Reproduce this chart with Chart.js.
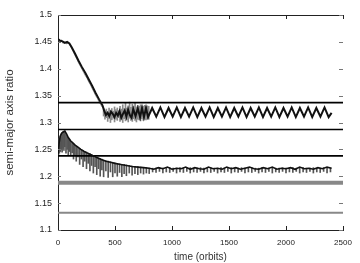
<!DOCTYPE html>
<html>
<head>
<meta charset="utf-8">
<script src="https://cdn.jsdelivr.net/npm/chart.js@4"></script>
<style>
  html, body { margin: 0; padding: 0; background: #fff; }
  #c { display: block; }
</style>
</head>
<body>
<canvas id="c" width="360" height="263"></canvas>
<script>
// axis ticks
const xTicks = [0, 500, 1000, 1500, 2000, 2500];
const yTicks = [1.1, 1.15, 1.2, 1.25, 1.3, 1.35, 1.4, 1.45, 1.5];

// horizontal reference levels
const refLevels = [1.337, 1.287, 1.238];
const grayLevels = [1.188, 1.132];

// upper curve (smoothed, black)
const upperTime = [0, 20, 40, 60, 80, 100, 120, 150, 180, 210, 240, 270, 300, 330, 360, 390, 405, 420, 435, 450, 465, 480, 495, 510, 525, 540, 555, 570, 585, 600, 615, 630, 645, 660, 680, 700, 720, 737, 754, 772,
  790, 826, 862, 898, 934, 970, 1006, 1042, 1078, 1114, 1150, 1186, 1222, 1258, 1294, 1330, 1366, 1402, 1438, 1474, 1510, 1546, 1582, 1618, 1654, 1690, 1726, 1762, 1798, 1834, 1870, 1906, 1942, 1978, 2014, 2050, 2086, 2122, 2158, 2194, 2230, 2266, 2302, 2338, 2374, 2400];
const upperValue = [1.455, 1.452, 1.451, 1.448, 1.450, 1.447, 1.440, 1.428, 1.415, 1.403, 1.392, 1.380, 1.368, 1.355, 1.343, 1.332, 1.322, 1.314, 1.318, 1.312, 1.320, 1.316, 1.310, 1.318, 1.313, 1.321, 1.309, 1.316, 1.322, 1.311, 1.324, 1.314, 1.309, 1.325, 1.312, 1.326, 1.310, 1.327, 1.310, 1.327,
  1.310, 1.327, 1.311, 1.328, 1.310, 1.327, 1.311, 1.328, 1.310, 1.327, 1.311, 1.328, 1.310, 1.327, 1.311, 1.328, 1.310, 1.327, 1.311, 1.328, 1.310, 1.327, 1.311, 1.328, 1.310, 1.327, 1.311, 1.328, 1.310, 1.327, 1.311, 1.328, 1.310, 1.327, 1.311, 1.328, 1.310, 1.327, 1.311, 1.328, 1.310, 1.327, 1.311, 1.328, 1.310, 1.318];

// upper curve raw jitter along the decline (gray)
const upperRawTime = [0, 15, 30, 45, 60, 75, 90, 105, 120, 135, 150, 165, 180, 195, 210, 225, 240, 255, 270, 285, 300, 315, 330, 345, 360, 375, 390];
const upperRawValue = [1.455, 1.450, 1.454, 1.447, 1.451, 1.446, 1.449, 1.443, 1.438, 1.431, 1.424, 1.418, 1.411, 1.405, 1.399, 1.393, 1.387, 1.382, 1.375, 1.370, 1.363, 1.357, 1.350, 1.345, 1.338, 1.333, 1.328];

// upper curve raw spikes after the capture (gray)
const upperSpikeTime = [400, 412, 424, 436, 448, 460, 472, 484, 496, 508, 520, 532, 544, 556, 568, 580, 592, 604, 616, 628, 640, 652, 664, 676, 688, 700, 712, 724, 736, 748, 760, 772, 784, 796];
const upperSpikeLow = [1.312, 1.306, 1.309, 1.302, 1.307, 1.300, 1.305, 1.308, 1.301, 1.306, 1.304, 1.309, 1.302, 1.306, 1.300, 1.307, 1.303, 1.305, 1.301, 1.308, 1.304, 1.302, 1.307, 1.304, 1.301, 1.306, 1.305, 1.303, 1.307, 1.304, 1.306, 1.305, 1.307, 1.306];
const upperSpikeHigh = [1.326, 1.322, 1.325, 1.320, 1.327, 1.323, 1.326, 1.321, 1.329, 1.324, 1.327, 1.322, 1.330, 1.325, 1.333, 1.326, 1.336, 1.327, 1.331, 1.338, 1.328, 1.334, 1.330, 1.337, 1.329, 1.332, 1.330, 1.333, 1.331, 1.330, 1.332, 1.330, 1.331, 1.330];

// lower curve (smoothed, black)
const lowerTime = [0, 10, 20, 35, 60, 75, 90, 110, 130, 150, 175, 200, 230, 260, 290, 320, 350, 380, 420, 460, 500, 550, 600, 650, 700, 750, 800,
  840, 880, 920, 960, 1000, 1040, 1080, 1120, 1160, 1200, 1240, 1280, 1320, 1360, 1400, 1440, 1480, 1520, 1560, 1600, 1640, 1680, 1720, 1760, 1800, 1840, 1880, 1920, 1960, 2000, 2040, 2080, 2120, 2160, 2200, 2240, 2280, 2320, 2360, 2400];
const lowerValue = [1.240, 1.262, 1.275, 1.281, 1.284, 1.279, 1.272, 1.266, 1.262, 1.258, 1.254, 1.250, 1.246, 1.243, 1.240, 1.237, 1.234, 1.231, 1.228, 1.226, 1.224, 1.222, 1.220, 1.218, 1.217, 1.216, 1.215,
  1.213, 1.216, 1.214, 1.217, 1.213, 1.215, 1.214, 1.217, 1.213, 1.216, 1.214, 1.213, 1.217, 1.214, 1.215, 1.213, 1.217, 1.214, 1.216, 1.213, 1.215, 1.217, 1.214, 1.213, 1.216, 1.214, 1.217, 1.213, 1.215, 1.214, 1.216, 1.213, 1.217, 1.214, 1.215, 1.213, 1.216, 1.214, 1.217, 1.215];

// lower curve raw spikes (gray)
const lowerSpikeTime = [4, 12, 20, 28, 36, 44, 52, 60, 70, 80, 90, 100, 112, 124, 136, 148, 160, 175, 190, 205, 220, 235, 250, 265, 280, 295, 310, 325, 340, 355, 370, 385, 400, 420, 440, 460, 480, 500, 520, 540, 560, 580, 600, 625, 650, 675, 700, 725, 750, 775, 800,
  830, 860, 890, 920, 950, 980, 1010, 1040, 1070, 1100, 1130, 1160, 1190, 1220, 1250, 1280, 1310, 1340, 1370, 1400, 1430, 1460, 1490, 1520, 1550, 1580, 1610, 1640, 1670, 1700, 1730, 1760, 1790, 1820, 1850, 1880, 1910, 1940, 1970, 2000, 2030, 2060, 2090, 2120, 2150, 2180, 2210, 2240, 2270, 2300, 2330, 2360, 2390];
const lowerSpikeLow = [1.240, 1.243, 1.246, 1.250, 1.245, 1.252, 1.248, 1.255, 1.243, 1.250, 1.240, 1.246, 1.238, 1.244, 1.232, 1.240, 1.228, 1.236, 1.222, 1.232, 1.218, 1.228, 1.214, 1.224, 1.210, 1.220, 1.206, 1.218, 1.203, 1.214, 1.200, 1.212, 1.199, 1.210, 1.198, 1.208, 1.199, 1.206, 1.200, 1.207, 1.199, 1.205, 1.201, 1.206, 1.202, 1.205, 1.203, 1.206, 1.204, 1.206, 1.205,
  1.208, 1.207, 1.209, 1.206, 1.208, 1.207, 1.209, 1.206, 1.208, 1.207, 1.209, 1.206, 1.208, 1.207, 1.209, 1.206, 1.208, 1.207, 1.209, 1.206, 1.208, 1.207, 1.209, 1.206, 1.208, 1.207, 1.209, 1.206, 1.208, 1.207, 1.209, 1.206, 1.208, 1.207, 1.209, 1.206, 1.208, 1.207, 1.209, 1.206, 1.208, 1.207, 1.209, 1.206, 1.208, 1.207, 1.209, 1.206, 1.208, 1.207, 1.209, 1.206, 1.208];
const lowerSpikeHigh = [1.252, 1.270, 1.274, 1.279, 1.281, 1.283, 1.284, 1.284, 1.280, 1.276, 1.272, 1.269, 1.265, 1.262, 1.260, 1.258, 1.256, 1.254, 1.252, 1.250, 1.248, 1.246, 1.245, 1.243, 1.242, 1.240, 1.238, 1.237, 1.235, 1.234, 1.233, 1.232, 1.230, 1.229, 1.228, 1.227, 1.226, 1.225, 1.224, 1.223, 1.222, 1.222, 1.221, 1.220, 1.219, 1.218, 1.218, 1.217, 1.216, 1.216, 1.215,
  1.215, 1.215, 1.216, 1.215, 1.215, 1.216, 1.215, 1.215, 1.216, 1.215, 1.215, 1.216, 1.215, 1.215, 1.216, 1.215, 1.215, 1.216, 1.215, 1.215, 1.216, 1.215, 1.215, 1.216, 1.215, 1.215, 1.216, 1.215, 1.215, 1.216, 1.215, 1.215, 1.216, 1.215, 1.215, 1.216, 1.215, 1.215, 1.216, 1.215, 1.215, 1.216, 1.215, 1.215, 1.216, 1.215, 1.215, 1.216, 1.215, 1.215, 1.216, 1.215, 1.215];

function toPoints(xs, ys) {
    return xs.map(function (x, i) { return { x: x, y: ys[i] }; });
}

function toSpikes(xs, lows, highs) {
    return xs.map(function (x, i) { return { x: x, y: [lows[i], highs[i]] }; });
}

function levelLine(y, color, width, order) {
    return {
        data: [{ x: 0, y: y }, { x: 2500, y: y }],
        borderColor: color,
        borderWidth: width,
        pointRadius: 0,
        order: order
    };
}

function spikeSet(points, color) {
    return {
        type: 'bar',
        data: points,
        backgroundColor: color,
        borderWidth: 0,
        barThickness: 1,
        grouped: false,
        order: 6
    };
}

// inward tick marks on all four sides plus the top frame line
const frameTicks = {
    id: 'frameTicks',
    afterDraw: function (chart) {
        const ctx = chart.ctx;
        const a = chart.chartArea;
        const xs = chart.scales.x;
        const ys = chart.scales.y;
        ctx.save();
        ctx.strokeStyle = '#222';
        ctx.lineWidth = 1;
        ctx.beginPath();
        ctx.moveTo(a.left, a.top + 0.5);
        ctx.lineTo(a.right, a.top + 0.5);
        xTicks.forEach(function (v) {
            const px = Math.round(xs.getPixelForValue(v)) + 0.5;
            ctx.moveTo(px, a.bottom);
            ctx.lineTo(px, a.bottom - 4);
            ctx.moveTo(px, a.top);
            ctx.lineTo(px, a.top + 4);
        });
        ctx.stroke();
        ctx.strokeStyle = '#777';
        ctx.beginPath();
        yTicks.forEach(function (v) {
            const py = Math.round(ys.getPixelForValue(v)) + 0.5;
            ctx.moveTo(a.right, py);
            ctx.lineTo(a.right - 4, py);
            ctx.moveTo(a.left, py);
            ctx.lineTo(a.left + 3, py);
        });
        ctx.stroke();
        ctx.restore();
    }
};

const family = 'Liberation Sans, Arial, sans-serif';

new Chart(document.getElementById('c').getContext('2d'), {
    type: 'line',
    data: {
        datasets: [
            spikeSet(toSpikes(lowerSpikeTime, lowerSpikeLow, lowerSpikeHigh), '#555'),
            spikeSet(toSpikes(upperSpikeTime, upperSpikeLow, upperSpikeHigh), '#8a8a8a'),
            { data: toPoints(upperRawTime, upperRawValue), borderColor: '#9a9a9a', borderWidth: 1, pointRadius: 0, order: 5 },
            levelLine(grayLevels[0], '#888', 4, 4),
            levelLine(grayLevels[1], '#888', 2, 4),
            levelLine(refLevels[0], '#000', 1.6, 3),
            levelLine(refLevels[1], '#000', 1.6, 3),
            levelLine(refLevels[2], '#000', 1.6, 3),
            { data: toPoints(upperTime, upperValue), borderColor: '#111', borderWidth: 2, pointRadius: 0, order: 1 },
            { data: toPoints(lowerTime, lowerValue), borderColor: '#111', borderWidth: 1.6, pointRadius: 0, order: 1 }
        ]
    },
    options: {
        responsive: false,
        animation: false,
        devicePixelRatio: 1,
        layout: { padding: { top: 15, right: 17, left: 0, bottom: 0 } },
        plugins: { legend: { display: false }, tooltip: { enabled: false } },
        scales: {
            x: {
                type: 'linear',
                min: 0,
                max: 2500,
                offset: false,
                afterBuildTicks: function (scale) {
                    scale.ticks = xTicks.map(function (v) { return { value: v }; });
                },
                afterFit: function (scale) { scale.height = 33; },
                grid: { display: false, drawTicks: false, offset: false },
                border: { display: true, color: '#222', width: 1 },
                ticks: {
                    color: '#222',
                    font: { family: family, size: 8 },
                    padding: 8,
                    maxRotation: 0,
                    callback: function (v) { return String(v); }
                },
                title: { display: true, text: 'time (orbits)', color: '#333', font: { family: family, size: 10 }, padding: { top: 1, bottom: 0 } }
            },
            y: {
                type: 'linear',
                min: 1.1,
                max: 1.5,
                afterBuildTicks: function (scale) {
                    scale.ticks = yTicks.map(function (v) { return { value: v }; });
                },
                afterFit: function (scale) { scale.width = 58; },
                grid: { display: false, drawTicks: false },
                border: { display: true, color: '#222', width: 1 },
                ticks: {
                    color: '#222',
                    font: { family: family, size: 9 },
                    padding: 6,
                    callback: function (v) { return String(+v.toFixed(2)); }
                },
                title: { display: true, text: 'semi-major axis ratio', color: '#333', font: { family: family, size: 11.5 }, padding: { top: 3, bottom: 0 } }
            }
        }
    },
    plugins: [frameTicks]
});
</script>
</body>
</html>
